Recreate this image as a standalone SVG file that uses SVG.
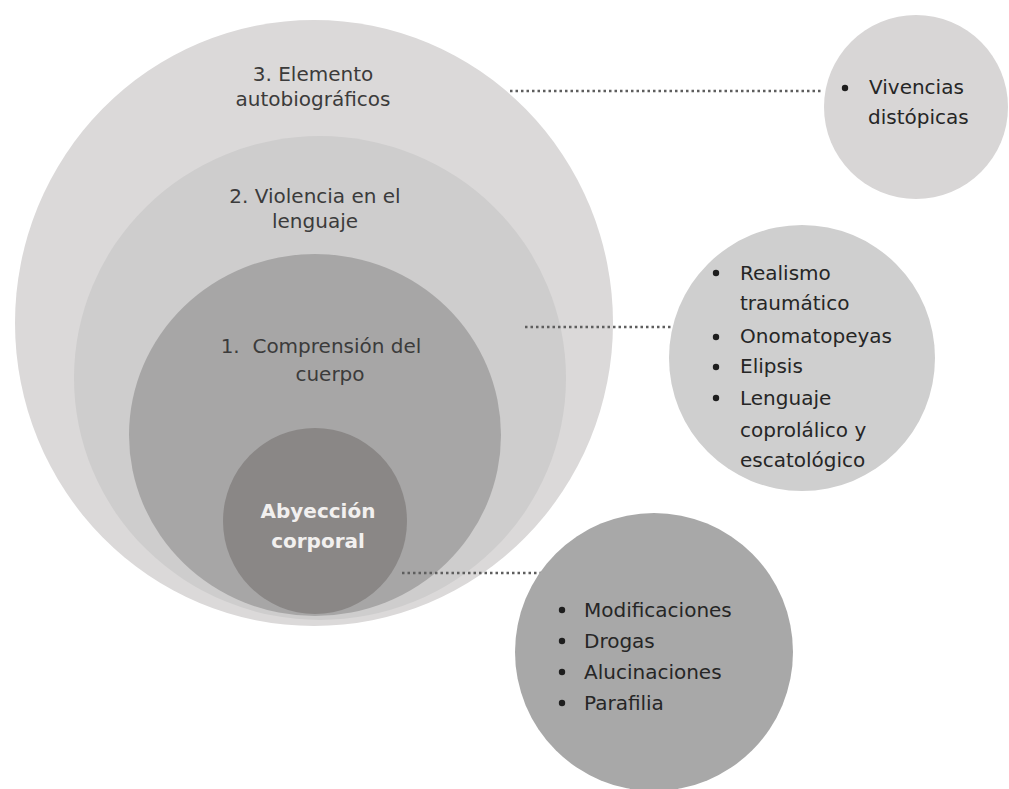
<svg xmlns="http://www.w3.org/2000/svg" width="1009" height="789" viewBox="0 0 1009 789">
<style>
.t{font-family:"DejaVu Sans","Liberation Sans",sans-serif;font-size:20px;fill:#3b3b3b;text-anchor:middle;white-space:pre}
.w{font-family:"DejaVu Sans","Liberation Sans",sans-serif;font-size:20px;font-weight:bold;fill:#f2f0ef;text-anchor:middle}
.l{font-family:"DejaVu Sans","Liberation Sans",sans-serif;font-size:20px;fill:#262626}
.dot{stroke:#5e5e5e;stroke-width:2.5;stroke-dasharray:2.5 3;fill:none}
.b{fill:#1e1e1e}
</style>
<rect width="1009" height="789" fill="#ffffff"/>
<g id="c3"><ellipse cx="314" cy="323" rx="299" ry="303" fill="#dbd9d9"/>
<text class="t" x="313" y="81">3. Elemento</text><text class="t" x="313" y="106">autobiográficos</text></g>
<g id="c2"><ellipse cx="320" cy="378" rx="246" ry="242" fill="#cecdcd"/>
<text class="t" x="315" y="203">2. Violencia en el</text><text class="t" x="315" y="228">lenguaje</text></g>
<g id="c1"><ellipse cx="315" cy="435" rx="186" ry="181" fill="#a7a6a6"/>
<text class="t" x="321" y="353">1.  Comprensión del</text><text class="t" x="330" y="381">cuerpo</text></g>
<g id="c0"><ellipse cx="315" cy="521" rx="92" ry="93" fill="#8a8786"/>
<text class="w" x="318" y="518">Abyección</text><text class="w" x="318" y="548">corporal</text></g>
<g id="connectors">
<line class="dot" x1="510" y1="91" x2="822" y2="91"/>
<line class="dot" x1="525" y1="327" x2="676" y2="327"/>
<line class="dot" x1="402" y1="573" x2="554" y2="573"/>
</g>
<g id="r1"><circle cx="916" cy="107" r="92" fill="#d8d6d6"/>
<circle class="b" cx="845" cy="88" r="3.2"/>
<text class="l" x="869" y="94">Vivencias</text><text class="l" x="868" y="124">distópicas</text></g>
<g id="r2"><circle cx="802" cy="358" r="133" fill="#cfcfcf"/>
<circle class="b" cx="716" cy="273" r="3.2"/><circle class="b" cx="716" cy="337" r="3.2"/><circle class="b" cx="716" cy="367" r="3.2"/><circle class="b" cx="716" cy="398" r="3.2"/>
<text class="l" x="740" y="280">Realismo</text><text class="l" x="740" y="310">traumático</text>
<text class="l" x="740" y="343">Onomatopeyas</text><text class="l" x="740" y="373">Elipsis</text>
<text class="l" x="740" y="405">Lenguaje</text><text class="l" x="740" y="437">coprolálico y</text><text class="l" x="740" y="467">escatológico</text></g>
<g id="r3"><circle cx="654" cy="652" r="139" fill="#a8a8a8"/>
<circle class="b" cx="562" cy="610" r="3.2"/><circle class="b" cx="562" cy="641" r="3.2"/><circle class="b" cx="562" cy="672" r="3.2"/><circle class="b" cx="562" cy="703" r="3.2"/>
<text class="l" x="584" y="617">Modificaciones</text><text class="l" x="584" y="648">Drogas</text>
<text class="l" x="584" y="679">Alucinaciones</text><text class="l" x="584" y="710">Parafilia</text></g>
</svg>
